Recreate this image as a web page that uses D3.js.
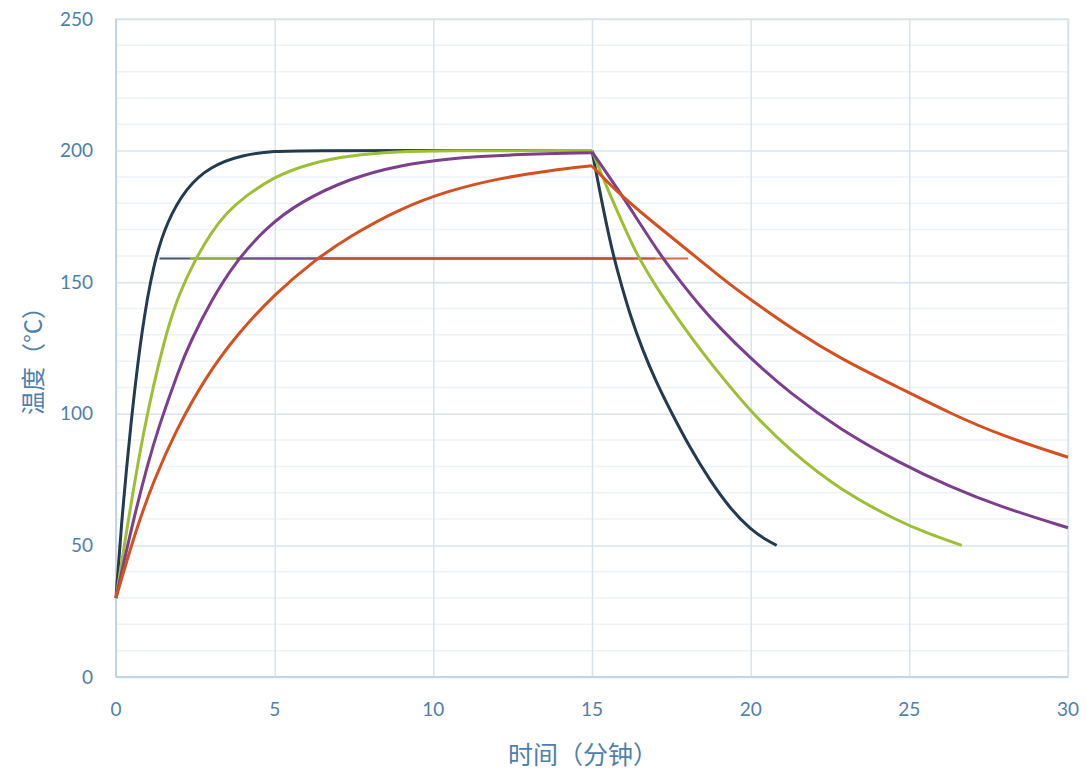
<!DOCTYPE html>
<html>
<head>
<meta charset="utf-8">
<script src="https://cdn.jsdelivr.net/npm/d3@7"></script>
<style>
  body { margin: 0; background: #fff; }
  text { font-family: Lato, "Noto Sans", sans-serif; }
  .cjk { font-family: "Noto Sans CJK SC", sans-serif; }
</style>
</head>
<body>
<div id="chart"></div>
<script>
// time (min), temperature (°C)
const navyRise = [[0,30],[0.16,57],[0.46,96],[0.81,132],[1.18,157],[1.6,173],[2.22,186],[2.96,194],[4,198.5],[5,199.8],[6,200],[10,200],[15,200]]
const navyFall = [[15,200],[15.3,181],[15.62,162.5],[15.9,150],[16.2,137.5],[16.6,124],[17.04,111.6],[17.5,100.5],[18.09,87],[18.7,75],[19.35,64],[20,56],[20.5,52],[20.82,50]]

const greenRise = [[0,30],[0.34,56],[0.86,94],[1.55,130],[2,146],[2.49,158.4],[3,169],[3.5,176.5],[4,182],[4.96,190],[6.11,195.2],[7.37,198.2],[8.95,199.6],[10,200],[15,200]]
const greenFall = [[15,200],[15.5,185],[16,171.5],[16.39,161],[17,148.5],[17.77,135],[18.5,123],[18.93,116.5],[19.98,101],[21.24,86],[22.82,71],[24.71,58.8],[25.6,54.5],[26.65,50]]

const purpleRise = [[0,30],[0.49,57],[1,81],[1.33,94.5],[2,117.5],[2.35,127.5],[3,143],[3.75,157.5],[4.75,171],[5.8,180.5],[7.37,189.5],[8.95,194.5],[10.53,197],[12.1,198.3],[15,199.2]]
const purpleFall = [[15,199.5],[15.78,186],[16.5,172.5],[17.2,159.5],[17.77,150.5],[18.4,141],[19,133],[19.98,121.2],[21.24,107.8],[22.82,94],[24.71,81.2],[26.28,72.3],[27.86,64.7],[30,56.7]]

const orangeRise = [[0,30],[0.6,55],[1.2,75],[1.9,94],[2.8,113.5],[3.8,130],[5,145.5],[6.27,158.5],[7.37,167.5],[8.95,178],[10.53,185],[12.1,189.5],[13.68,192.5],[15,194.2]]
const orangeFall = [[15,194.2],[15.78,184.4],[16.83,173.6],[17.88,163.5],[19.14,151],[19.98,143.5],[21.4,131.5],[22.82,121],[24.71,109.7],[26.28,100.2],[27.86,91.9],[30,83.5]]

const seriesColors = ["#243A4F", "#9EBF33", "#7B3F8E", "#D4501E"]
const seriesRise = [navyRise, greenRise, purpleRise, orangeRise]
const seriesFall = [navyFall, greenFall, purpleFall, orangeFall]

// horizontal level line at 159 °C, start/end time per series
const levelValue = 159
const levelSpans = [[1.37, 15.7], [2.33, 16.3], [3.8, 17.0], [6.5, 18.03]]

const xTicks = [0, 5, 10, 15, 20, 25, 30]
const yTicks = [0, 50, 100, 150, 200, 250]
const yMinor = d3.range(0, 251, 10)

const margin = { top: 19, right: 18, bottom: 94, left: 116 }
const width = 1086 - margin.left - margin.right
const height = 771 - margin.top - margin.bottom

const svg = d3.select("#chart")
              .append("svg")
              .attr("width", 1086)
              .attr("height", 771)

const g = svg.append("g")
             .attr("transform", "translate(" + margin.left + "," + margin.top + ")")

const x = d3.scaleLinear().domain([0, 30]).range([0, width])
const y = d3.scaleLinear().domain([0, 250]).range([height, 0])

// minor gridlines
g.append("g")
 .selectAll("line")
 .data(yMinor.filter(v => v % 50 !== 0))
 .join("line")
 .attr("x1", 0).attr("x2", width)
 .attr("y1", d => y(d)).attr("y2", d => y(d))
 .attr("stroke", "#EEF3F8")
 .attr("stroke-width", 1.5)

// major gridlines
g.append("g")
 .call(d3.axisLeft(y).tickValues(yTicks).tickSize(-width).tickFormat(""))
 .call(a => a.select(".domain").remove())
 .call(a => a.selectAll("line").attr("stroke", "#D8E3EE").attr("stroke-width", 1.5))

g.append("g")
 .attr("transform", "translate(0," + height + ")")
 .call(d3.axisBottom(x).tickValues(xTicks).tickSize(-height).tickFormat(""))
 .call(a => a.select(".domain").remove())
 .call(a => a.selectAll("line").attr("stroke", "#D8E3EE").attr("stroke-width", 1.5))

// plot border
g.append("rect")
 .attr("width", width).attr("height", height)
 .attr("fill", "none")
 .attr("stroke", "#D8E3EE")
 .attr("stroke-width", 1.5)

g.append("line")
 .attr("x1", 0).attr("x2", 0).attr("y1", 0).attr("y2", height)
 .attr("stroke", "#C5D4E3").attr("stroke-width", 2)
g.append("line")
 .attr("x1", 0).attr("x2", width).attr("y1", height).attr("y2", height)
 .attr("stroke", "#C5D4E3").attr("stroke-width", 2)

// tick labels
g.append("g")
 .selectAll("text")
 .data(yTicks)
 .join("text")
 .attr("x", -23)
 .attr("y", d => y(d))
 .attr("dy", "0.35em")
 .attr("text-anchor", "end")
 .attr("fill", "#4F7FAE")
 .attr("font-size", 19)
 .text(d => d)

g.append("g")
 .selectAll("text")
 .data(xTicks)
 .join("text")
 .attr("x", d => x(d))
 .attr("y", height + 39)
 .attr("text-anchor", "middle")
 .attr("fill", "#4F7FAE")
 .attr("font-size", 19)
 .text(d => d)

// axis titles
svg.append("text")
   .attr("class", "cjk")
   .attr("x", 583)
   .attr("y", 764)
   .attr("text-anchor", "middle")
   .attr("fill", "#4F7FAE")
   .attr("font-size", 25)
   .text("时间（分钟）")

svg.append("text")
   .attr("class", "cjk")
   .attr("transform", "translate(42,355) rotate(-90)")
   .attr("text-anchor", "middle")
   .attr("fill", "#4F7FAE")
   .attr("font-size", 24)
   .text("温度（°C）")

// level lines
g.append("g")
 .selectAll("line")
 .data(levelSpans)
 .join("line")
 .attr("x1", d => x(d[0])).attr("x2", d => x(d[1]))
 .attr("y1", y(levelValue)).attr("y2", y(levelValue))
 .attr("stroke", (d, i) => seriesColors[i])
 .attr("stroke-opacity", 0.85)
 .attr("stroke-width", 2)

const line = d3.line()
               .x(d => x(d[0]))
               .y(d => y(d[1]))
               .curve(d3.curveBasis)

seriesColors.forEach((c, i) => {
    [seriesRise[i], seriesFall[i]].forEach(data => {
        g.append("path")
         .datum(data)
         .attr("fill", "none")
         .attr("stroke", c)
         .attr("stroke-width", 3)
         .attr("stroke-linejoin", "round")
         .attr("d", line)
    })
})
</script>
</body>
</html>
